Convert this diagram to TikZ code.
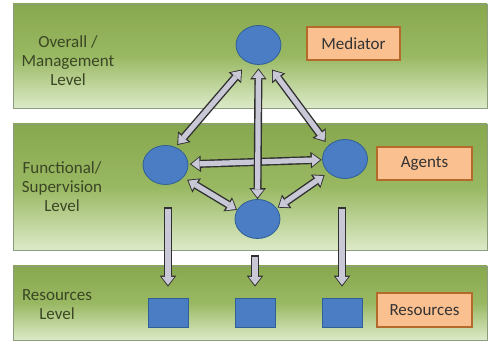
\documentclass[tikz,border=0pt]{standalone}
\usepackage{fontspec}
\setmainfont{Carlito}
\usepackage{tikz}
\usetikzlibrary{arrows.meta,shapes.geometric}
\definecolor{bandtop}{HTML}{88A84F}
\definecolor{bandmid}{HTML}{99B862}
\definecolor{bandbot}{HTML}{DCEAC8}
\definecolor{bandline}{HTML}{8E9C7E}
\definecolor{leveltext}{HTML}{3A4624}
\definecolor{agentblue}{HTML}{4A7DC4}
\definecolor{agentline}{HTML}{2F5F94}
\definecolor{tagfill}{HTML}{FAC090}
\definecolor{tagline}{HTML}{B46A2A}
\definecolor{arrowfill}{HTML}{C8C8D6}
\definecolor{arrowline}{HTML}{303030}

\tikzset{
	band/.style={draw=bandline, line width=0.8pt, top color=bandtop, bottom color=bandbot, middle color=bandmid, minimum width=474pt, inner sep=0pt},
	levellabel/.style={text=leveltext, align=center},
	agent/.style={ellipse, draw=agentline, line width=0.8pt, fill=agentblue, minimum width=45pt, minimum height=39pt, inner sep=0pt},
	resource/.style={rectangle, draw=agentline, line width=0.8pt, fill=agentblue, minimum width=40pt, minimum height=29pt, inner sep=0pt},
	tag/.style={rectangle, draw=tagline, line width=1.2pt, fill=tagfill, text=black!80, minimum height=33pt, inner sep=0pt},
	biarrow/.style 2 args={draw=arrowfill, line width=5.2pt, {Triangle[width=12.5pt,length=8pt,line width=0pt]}-{Triangle[width=12.5pt,length=8pt,line width=0pt]}, shorten <=#1+1.6pt, shorten >=#2+1.6pt, preaction={draw=arrowline, line width=8pt, {Triangle[width=16.5pt,length=11pt,line width=0pt]}-{Triangle[width=16.5pt,length=11pt,line width=0pt]}, shorten <=#1, shorten >=#2}},
	downarrow/.style 2 args={draw=arrowfill, line width=5.2pt, -{Triangle[width=12.5pt,length=8pt,line width=0pt]}, shorten <=#1+1.6pt, shorten >=#2+1.6pt, preaction={draw=arrowline, line width=8pt, -{Triangle[width=16.5pt,length=11pt,line width=0pt]}, shorten <=#1, shorten >=#2}}
}

\begin{document}
\begin{tikzpicture}[x=1pt,y=-1pt,font=\fontsize{17}{19}\selectfont]
	\useasboundingbox (0,0) rectangle (488,344);
	\node[band, minimum height=104pt] (overall) at (250,56) {};
	\node[band, minimum height=126pt] (functional) at (250,187) {};
	\node[band, minimum height=74pt] (resources) at (250,303) {};

	\node[levellabel] (overalltxt) at (68,61) {Overall /\\Management\\Level};
	\node[levellabel] (functxt) at (62,187) {Functional/\\Supervision\\Level};
	\node[levellabel] (restxt) at (57,305) {Resources\\Level};

	\node[agent] (med) at (258.5,45) {};
	\node[agent] (agl) at (165.5,165) {};
	\node[agent] (agr) at (345,159) {};
	\node[agent] (agb) at (257.5,219) {};

	\node[resource] (res1) at (168,312.5) {};
	\node[resource] (res2) at (255,312.5) {};
	\node[resource] (res3) at (342,312.5) {};

	\node[tag, minimum width=93pt] (mediator) at (353.5,43.5) {Mediator};
	\node[tag, minimum width=95pt] (agents) at (424.5,163.5) {Agents};
	\node[tag, minimum width=95pt, minimum height=34pt] (restag) at (424.5,310) {Resources};

	\draw[biarrow={1.5pt}{0.5pt}] (agl) -- (agr);
	\draw[biarrow={9pt}{2.7pt}] (med.239) -- (agl.61);
	\draw[biarrow={7.8pt}{4.4pt}] (med.296) -- (agr.141);
	\draw[biarrow={3.5pt}{0pt}] (med.south) -- (agb.north);
	\draw[biarrow={4.5pt}{0pt}] (agl.325) -- (agb.156);
	\draw[biarrow={4.4pt}{1.1pt}] (agr.219) -- (agb.29);

	\draw[downarrow={22.5pt}{11pt}] (agl.south -| res1.north) -- (res1.north);
	\draw[downarrow={16.5pt}{11pt}] (agb.south -| res2.north) -- (res2.north);
	\draw[downarrow={28.5pt}{11pt}] (agr.south -| res3.north) -- (res3.north);
\end{tikzpicture}
\end{document}
